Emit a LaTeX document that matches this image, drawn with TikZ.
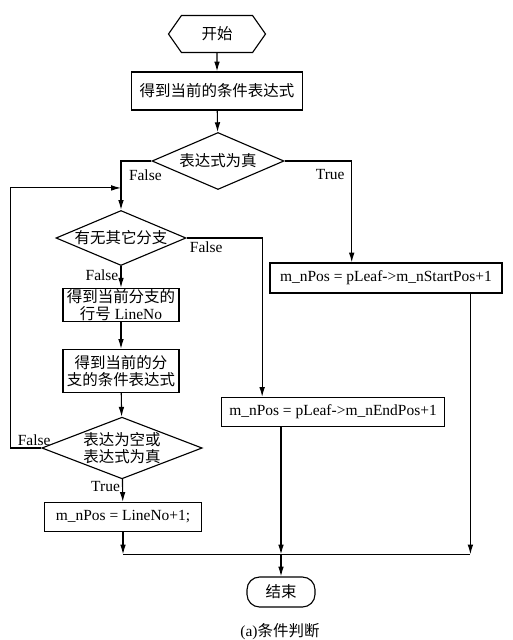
\documentclass[tikz,border=0pt]{standalone}
\usepackage{fontspec}
\setmainfont{Liberation Serif}
\newfontfamily\cjk{Noto Sans CJK SC}
\usetikzlibrary{shapes.geometric, shapes.symbols, arrows.meta, calc}
\tikzset{
    font=\fontsize{11}{12.5}\selectfont,
    >={Latex[length=7pt,width=4pt]},
    % Shapes
    startShape/.style={signal, signal to=west and east, signal pointer angle=110,
                       draw, line width=0.8pt, inner sep=0pt,
                       minimum width=2.425cm, minimum height=0.925cm},
    proc/.style={rectangle, draw, line width=0.8pt, align=center, inner xsep=2pt, inner ysep=0.5pt},
    decide/.style={diamond, draw, line width=0.8pt, align=center, inner sep=0pt},
    endShape/.style={rectangle, draw, line width=0.8pt, rounded corners=9pt,
                     minimum width=1.7cm, minimum height=0.75cm},
    % Flow & Labels
    flow/.style={->, line width=0.8pt},
    line/.style={line width=0.8pt},
    lbl/.style={inner sep=1.5pt}
}
\begin{document}
\begin{tikzpicture}[x=0.025cm, y=-0.025cm]
\useasboundingbox (0,0) rectangle (513,640);

\node[startShape] (start) at (217,34) {\cjk 开始};
\node[proc, minimum width=4.275cm, minimum height=0.95cm] (cond) at (217,91) {\cjk 得到当前的条件表达式};
\node[decide, aspect=2.3, minimum width=3.3cm, minimum height=1.425cm] (isTrue) at (218,161) {\cjk 表达式为真};

\node[decide, aspect=2.36, minimum width=3.25cm, minimum height=1.375cm] (other) at (121,238) {\cjk 有无其它分支};
\node[proc, minimum width=2.9cm, minimum height=0.775cm] (lineNo) at (121,305) {{\cjk 得到当前分支的}\\{\cjk 行号} LineNo};
\node[proc, minimum width=2.9cm, minimum height=1.075cm] (branch) at (121,371) {\cjk 得到当前的分\\\cjk 支的条件表达式};
\node[decide, aspect=2.6, minimum width=3.975cm, minimum height=1.525cm] (empty) at (122,448) {\cjk 表达为空或\\\cjk 表达式为真};
\node[proc, minimum width=3.925cm, minimum height=0.725cm] (posLine) at (123,517) {m\_nPos = LineNo+1;};

\node[proc, minimum width=5.8cm, minimum height=0.75cm] (posStart) at (386,278) {m\_nPos = pLeaf->m\_nStartPos+1};
\node[proc, minimum width=5.575cm, minimum height=0.725cm] (posEnd) at (333,412) {m\_nPos = pLeaf->m\_nEndPos+1};

\node[endShape] (end) at (281,592) {\cjk 结束};
\node (cap) at (280,632) {(a){\cjk 条件判断}};

\coordinate (join) at ($(other.north)+(0,-22)$);
\coordinate (mrg) at ($(end.north)+(0,-22)$);
\coordinate (inStart) at ($(posStart.north west)!0.353!(posStart.north east)$);
\coordinate (outStart) at ($(posStart.south west)!0.862!(posStart.south east)$);
\coordinate (inEnd) at ($(posEnd.north west)!0.184!(posEnd.north east)$);

\draw[flow] (start) -- (cond);
\draw[flow] (cond) -- (isTrue);
\draw[flow] (isTrue.west) -| node[lbl, pos=0.1, below, yshift=-4pt] (f1) {False} (other.north);
\draw[flow] (isTrue.east) -| node[lbl, pos=0.34, below, yshift=-4pt] (t1) {True} (inStart);
\draw[flow] (other.east) -| node[lbl, pos=0.13, below, yshift=-1pt] (f2) {False} (inEnd);
\draw[flow] (other) -- node[lbl, pos=0.42, left] (f3) {False} (lineNo);
\draw[flow] (lineNo) -- (branch);
\draw[flow] (branch) -- (empty);
\draw[flow] (empty.west) -- node[lbl, pos=0.23, above] (f4) {False} ++(-31,0) |- (join);
\draw[flow] (empty) -- node[lbl, pos=0.33, left] (t2) {True} (posLine);

\draw[flow] (posLine) -- (posLine |- mrg);
\draw[flow] (posEnd.south -| mrg) -- (mrg);
\draw[flow] (outStart) -- (outStart |- mrg);
\draw[line] (posLine |- mrg) -- (outStart |- mrg);
\draw[flow] (mrg) -- (end);

\end{tikzpicture}
\end{document}
